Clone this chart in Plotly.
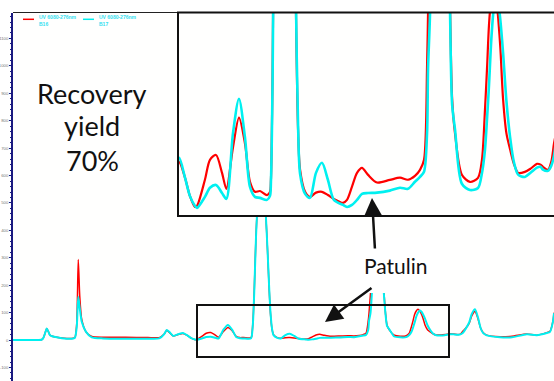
import plotly.graph_objects as go

# Retention time (min) and detector response (mAU)
time_min = [0.0, 1.0, 1.14, 1.21, 1.30, 1.35, 1.42, 1.48, 1.75, 2.15, 2.41, 2.48, 2.55, 2.61, 2.67, 2.75,
            2.92, 3.15, 3.6, 4.5, 5.4, 5.85, 6.05, 6.15, 6.25, 6.41, 6.6, 6.8, 6.985, 7.13, 7.283, 7.343,
            7.58, 7.73, 7.91, 8.09, 8.22, 8.417, 8.596, 8.775, 8.925, 9.074, 9.223, 9.432, 9.522, 9.55,
            9.6, 9.65, 9.72, 9.8, 9.88, 9.95, 10.02, 10.1, 10.18, 10.25, 10.3, 10.36, 10.42, 10.57,
            10.716, 10.895, 11.074, 11.25, 11.43, 11.701, 11.82, 11.97, 12.12, 12.268, 12.45, 12.716,
            13.1, 13.403, 13.64, 13.85, 14.0, 14.12, 14.21, 14.24, 14.30, 14.38, 14.5, 14.62, 14.75,
            14.85, 14.9, 14.96, 15.045, 15.25, 15.492, 15.731, 15.85, 15.94, 16.0, 16.06, 16.13, 16.2,
            16.27, 16.33, 16.4, 16.48, 16.58, 16.69, 16.8, 16.93, 17.13, 17.3, 17.49, 17.6, 17.67,
            17.82, 17.92, 18.0, 18.1, 18.25, 18.35, 18.48, 18.6, 18.7, 18.8, 18.95, 19.48, 19.96,
            20.55, 20.95, 21.35, 21.48, 21.6, 21.64]

b16_red = [0, 0, 1, 7, 30, 42, 30, 18, 10, 6, 7, 10, 60, 294, 160, 75,
           30, 13, 10, 10, 9, 9, 22, 36, 28, 15, 20, 24, 16, 7, 1.5, 2,
           15, 24.9, 27.3, 18.4, 10.5, 31, 45.8, 33, 14, 9, 9.4, 7.4, 9, 15,
           70, 180, 380, 520, 600, 620, 590, 480, 330, 180, 95, 40, 20, 9,
           6.5, 8.6, 9, 7.4, 5.5, 3.5, 5, 11.6, 18.4, 20.9, 17.4, 13.6,
           14.9, 16, 15, 16.9, 19.9, 24.9, 71, 98, 170, 240, 290, 300, 260,
           160, 98, 55, 38, 17.5, 13.9, 15.9, 25, 50, 70, 92, 106, 112,
           106, 96, 80, 55, 38, 30, 23, 18.4, 18.9, 20.5, 22.9, 22.5, 21.4,
           19.9, 24, 33, 42, 62, 88, 104, 78, 45, 28, 18, 12, 14,
           22, 18, 27, 32, 70, 100]

b17_cyan = [0, 0, 1, 7, 30, 42, 30, 18, 10, 5, 6, 9, 48, 158, 116, 67,
            30, 10, 6, 5, 5, 6, 22, 37, 30, 15, 21, 26, 16, 7, 2, 1,
            6.5, 11, 12.4, 8.4, 5.5, 38, 55.2, 36, 11.4, 6.5, 6, 5, 7, 14,
            65, 175, 375, 520, 600, 620, 590, 480, 330, 185, 100, 42, 18, 8,
            6, 18.4, 23.4, 15, 5, 2.5, 1.5, 2.5, 5, 8, 8.4, 8.6,
            9.6, 11, 10.5, 14, 16.4, 19, 38, 70, 98, 200, 280, 295, 260,
            150, 95, 52, 40, 13, 9.9, 10.9, 18.4, 30, 45, 62, 85, 100,
            108, 104, 94, 78, 54, 36, 24, 17.5, 16.4, 18.5, 21, 21.4, 20,
            19.4, 22, 27, 40, 65, 95, 112, 82, 45, 26, 17, 10, 10,
            21, 18, 26, 30, 68, 98]

series_names = ["UV 6080-276nm<br>B16", "UV 6080-276nm<br>B17"]
y_ticks = list(range(-100, 1200, 100))

assert len(time_min) == len(b16_red) == len(b17_cyan)

W, H = 554, 381
def px(x):
    return x / W
def py(y):
    return (H - y) / H

RED = "#ff0000"
CYAN = "#00f0f0"

fig = go.Figure()
# main chromatogram
fig.add_trace(go.Scatter(x=time_min, y=b16_red, mode="lines", name=series_names[0],
                         line=dict(color=RED, width=1.5, shape="spline", smoothing=0.6),
                         xaxis="x", yaxis="y", showlegend=False))
fig.add_trace(go.Scatter(x=time_min, y=b17_cyan, mode="lines", name=series_names[1],
                         line=dict(color=CYAN, width=2, shape="spline", smoothing=0.6),
                         xaxis="x", yaxis="y", showlegend=False))
# zoomed inset
fig.add_trace(go.Scatter(x=time_min, y=b16_red, mode="lines", name=series_names[0],
                         line=dict(color=RED, width=2.2, shape="spline", smoothing=0.8),
                         xaxis="x2", yaxis="y2", showlegend=False))
fig.add_trace(go.Scatter(x=time_min, y=b17_cyan, mode="lines", name=series_names[1],
                         line=dict(color=CYAN, width=2.6, shape="spline", smoothing=0.8),
                         xaxis="x2", yaxis="y2", showlegend=False))

NAVY = "#1a1a80"
fig.update_layout(
    width=W, height=H,
    margin=dict(l=0, r=0, t=0, b=0, autoexpand=False),
    paper_bgcolor="#ffffff", plot_bgcolor="#fffffe",
    showlegend=False,
    xaxis=dict(domain=[px(13), 1], range=[0, 21.64], visible=False, automargin=False),
    yaxis=dict(domain=[0, py(12.5)], range=[-149.3, 1194.7], showline=True, linecolor=NAVY,
               linewidth=1.5, ticks="outside", ticklen=2, tickcolor=NAVY, tickwidth=1,
               tickvals=y_ticks, ticktext=[str(v) for v in y_ticks], automargin=False,
               tickfont=dict(size=4.3, color="#777777", family="Liberation Sans"),
               showgrid=False, zeroline=False,
               minor=dict(dtick=20, ticks="outside", ticklen=1.5, tickcolor=NAVY, tickwidth=1)),
    xaxis2=dict(domain=[px(178), 1], range=[6.776, 18.0], visible=False, anchor="y2", automargin=False),
    yaxis2=dict(domain=[py(216), py(12.5)], range=[-3, 98], visible=False, anchor="x2", automargin=False),
)

shapes = [
    # main frame top
    dict(type="line", xref="paper", yref="paper", x0=px(13), x1=1, y0=py(12.5), y1=py(12.5),
         line=dict(color="#222222", width=1.2)),
    # inset frame
    dict(type="rect", xref="paper", yref="paper", x0=px(178), x1=1.01, y0=py(216), y1=py(12.5),
         line=dict(color="#111111", width=2)),
    # white label background hiding peak tops
    dict(type="rect", xref="paper", yref="paper", x0=px(355), x1=px(440), y0=py(293), y1=py(238),
         fillcolor="white", line=dict(width=0), layer="above"),
    # zoom region box
    dict(type="rect", xref="x", yref="y", x0=7.36, x1=17.44, y0=-62, y1=128,
         line=dict(color="#111111", width=2)),
    # legend lines
    dict(type="line", xref="paper", yref="paper", x0=px(23), x1=px(34), y0=py(19.3), y1=py(19.3),
         line=dict(color=RED, width=1.5)),
    dict(type="line", xref="paper", yref="paper", x0=px(83), x1=px(94), y0=py(19.3), y1=py(19.3),
         line=dict(color=CYAN, width=1.5)),
]
fig.update_layout(shapes=shapes)

ann = []
for txt, yc in [("Recovery", 93.5), ("yield", 125), ("70%", 160.5)]:
    ann.append(dict(text=txt, xref="paper", yref="paper", x=px(92), y=py(yc), showarrow=False,
                    xanchor="center", yanchor="middle",
                    font=dict(family="Lato", size=27, color="#111111")))
ann.append(dict(text="Patulin", xref="paper", yref="paper", x=px(395.5), y=py(265.5), showarrow=False,
                xanchor="center", yanchor="middle", font=dict(family="Lato", size=21, color="#111111")))
for name, x0 in [(series_names[0], 37), (series_names[1], 97)]:
    ann.append(dict(text="<b>" + name + "</b>", xref="paper", yref="paper", x=px(x0), y=py(20.3),
                    showarrow=False, xanchor="left", yanchor="middle", align="left",
                    font=dict(family="Liberation Sans", size=5, color="#33e0f0")))
# arrows
ann.append(dict(text="", xref="paper", yref="paper", x=px(372), y=py(198), ax=3, ay=52,
                showarrow=True, arrowhead=2, arrowsize=1.4, arrowwidth=2.5, arrowcolor="#111111",
                standoff=0))
ann.append(dict(text="", xref="paper", yref="paper", x=px(325), y=py(322), ax=48, ay=-35,
                showarrow=True, arrowhead=2, arrowsize=1.4, arrowwidth=2.5, arrowcolor="#111111",
                standoff=0))
fig.update_layout(annotations=ann)

fig.write_html("out.html", config={"displayModeBar": False},
               post_script="document.body.style.margin='0';")
